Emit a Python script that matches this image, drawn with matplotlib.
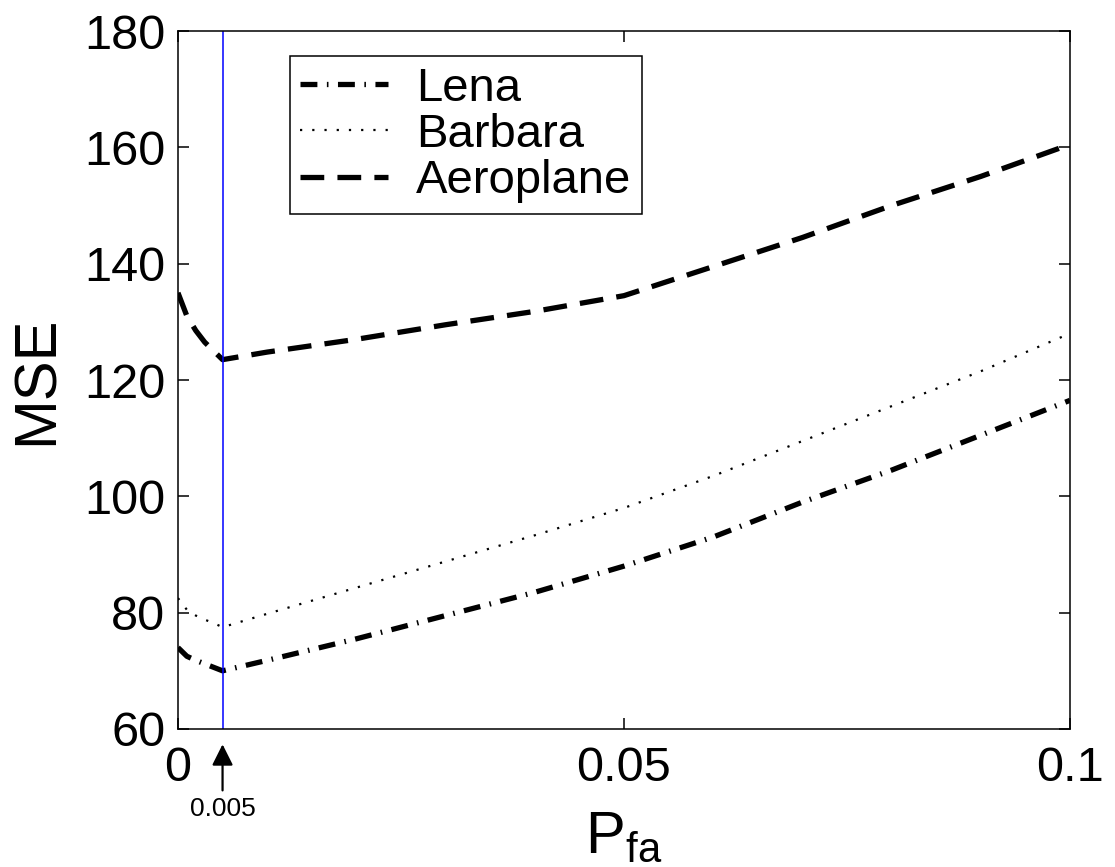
import matplotlib
matplotlib.use("Agg")
import numpy as np
from matplotlib import pyplot as plt

plt.rcParams['font.family'] = ['Liberation Sans', 'DejaVu Sans']
plt.rcParams['mathtext.fontset'] = 'custom'
plt.rcParams['mathtext.rm'] = 'Liberation Sans'
plt.rcParams['mathtext.it'] = 'Liberation Sans'

# values
pfa = [0, 0.001, 0.002, 0.003, 0.004, 0.005, 0.01, 0.02, 0.03, 0.04,
       0.05, 0.06, 0.07, 0.08, 0.09, 0.1]
lena = [74, 72.5, 71.8, 71.2, 70.6, 70, 71.8, 75.5, 79.5, 83.5,
        88, 93, 99, 104.5, 110.5, 116.5]
barbara = [82.5, 80.5, 79.5, 78.8, 78.2, 77.5, 79.8, 84.3, 88.8, 93.3,
           98, 103.5, 109.5, 115.5, 121.5, 128]
aeroplane = [135, 131, 128.5, 126.5, 125, 123.5, 124.8, 127, 129.5, 131.8,
             134.5, 139.5, 144.5, 150, 155, 160.5]
chosen_pfa = 0.005

xticks = [0, 0.05, 0.1]
xticklabels = ['0', '0.05', '0.1']
yticks = [60, 80, 100, 120, 140, 160, 180]

fig = plt.figure(figsize=(11.15, 8.67), dpi=100)
ax = fig.add_axes([0.1596, 0.1592, 0.8, 0.805])

ax.plot(pfa, lena, color='k', lw=3.8, linestyle=(0, (3.2, 1.8, 0.3, 1.8)),
        label='Lena')
ax.plot(pfa, barbara, color='k', lw=1.6, linestyle=(0, (1, 4.5)),
        label='Barbara')
ax.plot(pfa, aeroplane, color='k', lw=3.8, linestyle=(0, (4.5, 2.5)),
        label='Aeroplane')
ax.axvline(chosen_pfa, color='#0000ff', lw=1.1)

ax.set_xlim(0, 0.1)
ax.set_ylim(60, 180)
ax.set_xticks(xticks)
ax.set_xticklabels(xticklabels)
ax.set_yticks(yticks)
ax.tick_params(direction='in', length=8, width=1.1, labelsize=35,
               top=True, right=True)
ax.tick_params(axis='x', pad=12)
ax.tick_params(axis='y', pad=9)
for s in ax.spines.values():
    s.set_linewidth(1.1)

ax.set_ylabel('MSE', fontsize=43, labelpad=14)
ax.set_xlabel(r'$\mathregular{P_{fa}}$', fontsize=43, labelpad=14)

# arrow marking the chosen false alarm rate
ax.annotate('', xy=(chosen_pfa, -0.022), xycoords=('data', 'axes fraction'),
            xytext=(chosen_pfa, -0.088), textcoords=('data', 'axes fraction'),
            arrowprops=dict(arrowstyle='-|>', lw=1.6, color='k',
                            mutation_scale=32, shrinkA=0, shrinkB=0),
            annotation_clip=False)
ax.text(chosen_pfa, -0.115, '0.005', transform=ax.get_xaxis_transform(),
        ha='center', va='center', fontsize=19)

leg = ax.legend(loc='upper left', bbox_to_anchor=(0.1256, 0.964),
                fontsize=34, fancybox=False, edgecolor='k', framealpha=1,
                handlelength=1.85, labelspacing=0.05, borderaxespad=0,
                handletextpad=0.6, borderpad=0.22)
leg.get_frame().set_linewidth(1.1)

fig.savefig('out.png', dpi=100)
